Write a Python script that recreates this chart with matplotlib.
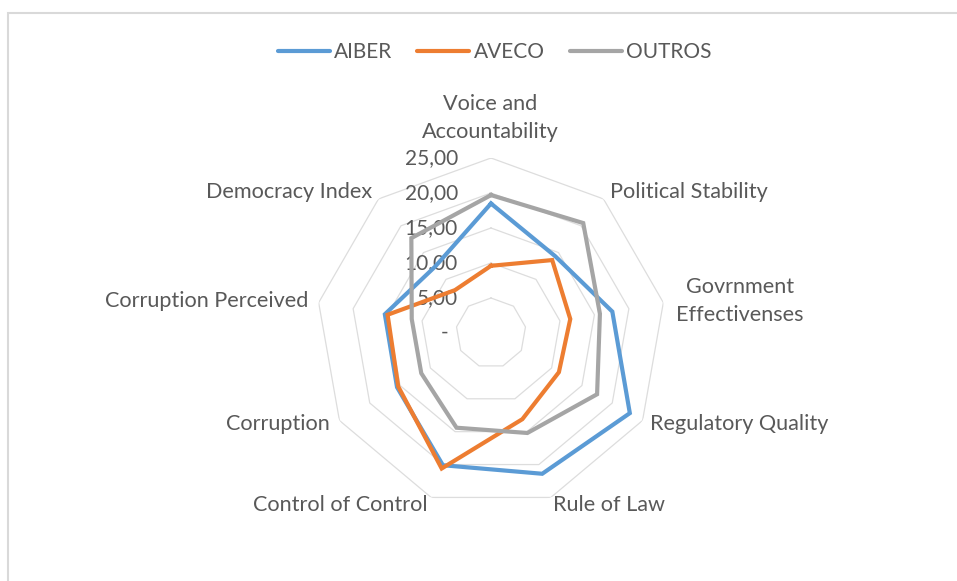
import numpy as np
import matplotlib
matplotlib.use("Agg")
import matplotlib.pyplot as plt
from matplotlib.lines import Line2D

plt.rcParams['font.family'] = ['Lato', 'DejaVu Sans']

categories = ["Voice and\nAccountability", "Political Stability", "Govrnment\nEffectivenses",
              "Regulatory Quality", "Rule of Law", "Control of Control", "Corruption",
              "Corruption Perceived", "Democracy Index"]
aiber = [18.5, 14.3, 17.6, 22.9, 21.4, 20.1, 15.5, 15.4, 12.4]
aveco = [9.6, 13.6, 11.5, 11.2, 13.1, 20.6, 15.3, 15.0, 8.0]
outros = [19.7, 20.5, 15.8, 17.5, 15.2, 14.4, 11.5, 11.5, 17.7]
series_names = ["AIBER", "AVECO", "OUTROS"]
ring_values = [5, 10, 15, 20, 25]
tick_labels = ["-", "5,00", "10,00", "15,00", "20,00", "25,00"]

colors = ["#5B9BD5", "#ED7D31", "#A5A5A5"]
text_color = "#595959"
grid_color = "#DDDDDD"
fs = 15.6

W, H = 957, 581
fig = plt.figure(figsize=(W / 100, H / 100), dpi=100)

# outer chart border (cut off on the right and bottom)
fig.add_artist(plt.Rectangle((8 / W, -0.1), 1.2, (H - 13) / H + 0.1,
                             transform=fig.transFigure, fill=False,
                             ec="#D9D9D9", lw=1.5))

# polar axes centred at (491, 333) px, radius 175 px
ax = fig.add_axes([316 / W, (H - 333 - 175) / H, 350 / W, 350 / H], projection="polar")
ax.set_theta_zero_location("N")
ax.set_theta_direction(-1)
ax.set_ylim(0, 25)
ax.axis("off")

n = len(categories)
theta = np.linspace(0, 2 * np.pi, n, endpoint=False)
theta_closed = np.append(theta, theta[0])

for rv in ring_values:
    ax.plot(theta_closed, [rv] * (n + 1), color=grid_color, lw=0.9, zorder=1)

for vals, col in zip([aiber, aveco, outros], colors):
    ax.plot(theta_closed, list(vals) + [vals[0]], color=col, lw=3,
            solid_joinstyle="miter", zorder=3)

# radial tick labels along the top axis
for i, lab in enumerate(tick_labels):
    dx = -43 if lab == "-" else -33
    ax.annotate(lab, (0, i * 5), xytext=(dx, 0), textcoords="offset pixels",
                ha="right", va="center", fontsize=15, color=text_color, zorder=2)

# category labels: offsets (px) from the outer ring vertex
label_pos = [(-1, 40, "center"), (6.5, 7, "left"), (76.6, 2, "center"),
             (7.5, -3.5, "left"), (2, -8, "left"), (-4, -8, "right"),
             (-9.5, -3.5, "right"), (-10.6, 1.6, "right"), (-6.5, 7, "right")]
for t, lab, (ox, oy, ha) in zip(theta, categories, label_pos):
    ax.annotate(lab, (t, 25), xytext=(ox, oy), textcoords="offset pixels",
                ha=ha, va="center", fontsize=fs, color=text_color,
                linespacing=1.5, annotation_clip=False)

handles = [Line2D([], [], color=c, lw=3, solid_capstyle="round") for c in colors]
leg = fig.legend(handles, series_names, loc="center", bbox_to_anchor=(494.5 / W, 1 - 52 / H),
                 ncol=3, frameon=False, fontsize=15, handlelength=2.5,
                 handletextpad=0.2, columnspacing=1.2)
for txt in leg.get_texts():
    txt.set_color(text_color)

fig.savefig("out.png", dpi=100, facecolor="white")
